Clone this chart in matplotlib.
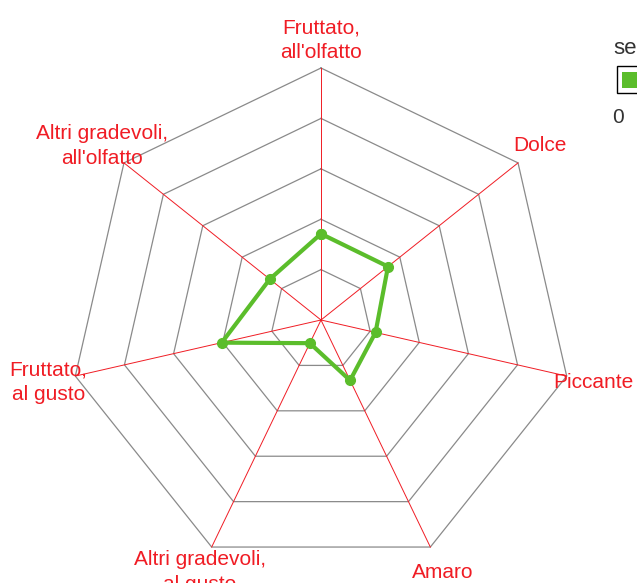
import numpy as np
import matplotlib
matplotlib.use("Agg")
from matplotlib import pyplot as plt
from matplotlib.patches import Rectangle

categories = ["Fruttato,\nall'olfatto", "Dolce", "Piccante", "Amaro",
              "Altri gradevoli,\nal gusto", "Fruttato,\nal gusto",
              "Altri gradevoli,\nall'olfatto"]
values = [3.42, 3.4, 2.22, 2.66, 1.02, 4.04, 2.6]
ring_levels = [2, 4, 6, 8, 10]
series_name = "series"
legend_label = "0"

RED = "#f01c24"
GREEN = "#5bbd2b"
GRID = "#8a8a8a"

plt.rcParams["font.family"] = ["Liberation Sans", "DejaVu Sans"]

W, H = 637, 583
fig = plt.figure(figsize=(W / 100, H / 100), dpi=100)
ax = fig.add_axes([0, 0, 1, 1])
ax.axis("off")

# center of the web at pixel (321, 320), 25.2 px per unit
cx, cy, ppu = 321, 320, 25.2
ax.set_xlim(-cx / ppu, (W - cx) / ppu)
ax.set_ylim(-(H - cy) / ppu, cy / ppu)

n = len(categories)
ang = np.arange(n) * 2 * np.pi / n
sx, sy = np.sin(ang), np.cos(ang)

# rings
for r in ring_levels:
    ax.plot(np.append(sx, sx[0]) * r, np.append(sy, sy[0]) * r,
            color=GRID, lw=0.9, zorder=1)

# spokes
rmax = ring_levels[-1]
for i in range(n):
    ax.plot([0, sx[i] * rmax], [0, sy[i] * rmax], color=RED, lw=0.7, zorder=2)

# labels
for i, lab in enumerate(categories):
    ax.text(sx[i] * 11.1, sy[i] * 11.1, lab, color=RED, fontsize=15,
            ha="center", va="center", multialignment="center", linespacing=1.4)

# data
v = np.array(values)
ax.plot(np.append(sx * v, sx[0] * v[0]), np.append(sy * v, sy[0] * v[0]),
        color=GREEN, lw=3, marker="o", ms=7, zorder=5)

# legend, clipped by the figure edge
fig.text(613 / W, 1 - 48 / H, series_name, fontsize=16, color="#333333",
         ha="left", va="center")
fig.patches.append(Rectangle((617 / W, 1 - 93 / H), 40 / W, 27 / H,
                             transform=fig.transFigure, facecolor="white",
                             edgecolor="black", lw=1))
fig.patches.append(Rectangle((622 / W, 1 - 88 / H), 16 / W, 16 / H,
                             transform=fig.transFigure, facecolor=GREEN,
                             edgecolor="none"))
fig.text(612 / W, 1 - 117 / H, legend_label, fontsize=15, color="#333333",
         ha="left", va="center")

fig.savefig("out.png", dpi=100)
